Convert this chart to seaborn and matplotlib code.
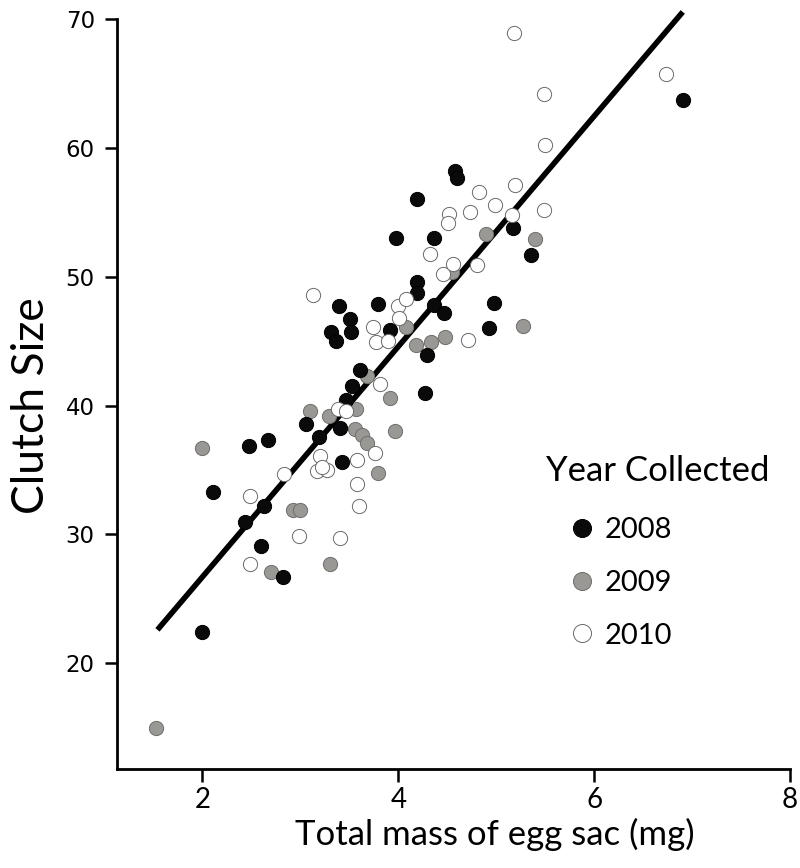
import numpy as np
import pandas as pd
import matplotlib
matplotlib.use("Agg")
import matplotlib.pyplot as plt
import seaborn as sns
from matplotlib.lines import Line2D

# ---- data ----
years = ["2008", "2009", "2010"]

x_2008 = [2.00, 2.11, 2.48, 2.67, 2.43, 2.63, 2.60, 2.82, 3.06, 3.19, 3.39, 3.31, 3.36,
          3.51, 3.52, 3.40, 3.42, 3.47, 3.53, 3.61, 3.79, 3.92, 3.98, 4.19, 4.19, 4.19,
          4.36, 4.36, 4.47, 4.29, 4.27, 4.58, 4.60, 4.98, 4.93, 5.17, 5.36, 6.91]
y_2008 = [22.4, 33.3, 36.9, 37.3, 31.0, 32.2, 29.1, 26.7, 38.6, 37.6, 47.7, 45.7, 45.0,
          46.7, 45.7, 38.3, 35.6, 40.4, 41.5, 42.8, 47.9, 45.9, 53.0, 49.6, 48.7, 56.0,
          53.0, 47.8, 47.2, 43.9, 41.0, 58.2, 57.7, 48.0, 46.0, 53.8, 51.7, 63.7]

x_2009 = [1.53, 1.99, 2.70, 2.92, 3.00, 3.10, 3.29, 3.30, 3.56, 3.63, 3.68, 3.57,
          3.68, 3.79, 3.91, 3.97, 4.08, 4.18, 4.33, 4.48, 4.55, 4.90, 5.27, 5.40]
y_2009 = [15.0, 36.7, 27.1, 31.9, 31.9, 39.6, 39.2, 27.7, 38.2, 37.7, 37.1, 39.7,
          42.3, 34.8, 40.6, 38.0, 46.1, 44.7, 44.9, 45.3, 50.4, 53.3, 46.2, 52.9]

x_2010 = [2.49, 2.49, 2.83, 2.99, 3.13, 3.20, 3.17, 3.27, 3.22, 3.40,
          3.38, 3.47, 3.58, 3.58, 3.60, 3.76, 3.77, 3.74, 3.89, 3.81,
          4.00, 4.01, 4.08, 4.32, 4.46, 4.56, 4.52, 4.51, 4.73, 4.82,
          4.99, 4.80, 4.71, 5.16, 5.19, 5.49, 5.50, 5.49, 5.18, 6.73]
y_2010 = [33.0, 27.7, 34.7, 29.9, 48.6, 36.1, 34.9, 35.0, 35.2, 29.7,
          39.7, 39.6, 35.8, 33.9, 32.2, 36.3, 44.9, 46.1, 45.0, 41.7,
          47.7, 46.8, 48.3, 51.8, 50.2, 51.0, 54.9, 54.2, 55.0, 56.6,
          55.6, 50.9, 45.1, 54.8, 57.1, 55.2, 60.2, 64.2, 68.9, 65.7]

# fitted regression line (end points)
fit_x = [1.54, 6.905]
fit_y = [22.6, 70.55]

x_ticks = [2, 4, 6, 8]
y_ticks = [20, 30, 40, 50, 60, 70]

# ---- styling ----
fills = {"2008": "#0a0a0a", "2009": "#999894", "2010": "#ffffff"}
edges = {"2008": "#000000", "2009": "#6e6e6a", "2010": "#6a6a6a"}

sns.set_theme(style="ticks")
plt.rcParams['font.family'] = ['Lato', 'DejaVu Sans']
for k in ["text.color", "axes.labelcolor", "xtick.color", "ytick.color",
          "axes.edgecolor"]:
    plt.rcParams[k] = "black"

df = pd.concat([
    pd.DataFrame({"mass": x_2008, "clutch": y_2008, "Year": "2008"}),
    pd.DataFrame({"mass": x_2009, "clutch": y_2009, "Year": "2009"}),
    pd.DataFrame({"mass": x_2010, "clutch": y_2010, "Year": "2010"}),
], ignore_index=True)

W, H = 800, 868
fig = plt.figure(figsize=(W / 100, H / 100), dpi=100)
L, R, T, B = 117, 790, 19, 769
ax = fig.add_axes([L / W, (H - B) / H, (R - L) / W, (B - T) / H])

sns.lineplot(x=fit_x, y=fit_y, color="black", linewidth=4.0, ax=ax,
             zorder=2, clip_on=False, solid_capstyle="butt")

for yr in ["2009", "2008", "2010"]:
    sub = df[df["Year"] == yr]
    sns.scatterplot(data=sub, x="mass", y="clutch", color=fills[yr],
                    edgecolor=edges[yr], linewidth=0.7, s=105, ax=ax,
                    zorder=3, legend=False)

ax.set_xlim(1.127, 8)
ax.set_ylim(11.8, 70)
ax.set_xticks(x_ticks)
ax.set_yticks(y_ticks)
sns.despine(ax=ax)
for sp in ["left", "bottom"]:
    ax.spines[sp].set_linewidth(2.0)
    ax.spines[sp].set_color("black")
ax.tick_params(axis="both", direction="out", length=9, width=1.8, color="black")
ax.tick_params(axis="x", pad=4, labelsize=20)
ax.tick_params(axis="y", pad=7, labelsize=16.5, labelfontfamily="DejaVu Sans")

ax.set_xlabel("Total mass of egg sac (mg)", fontsize=25)
ax.set_ylabel("Clutch Size", fontsize=32)
ax.xaxis.set_label_coords((495 - L) / (R - L), -(834 - B) / (B - T))
ax.xaxis.label.set_va("center")
ax.yaxis.set_label_coords(-(L - 32) / (R - L), (B - 406) / (B - T))
ax.yaxis.label.set_va("center")

# legend
handles = [Line2D([], [], marker="o", linestyle="none", markersize=13,
                  markerfacecolor=fills[y], markeredgecolor=edges[y],
                  markeredgewidth=0.7) for y in years]
leg = ax.legend(handles, years, loc="upper left", frameon=False,
                bbox_to_anchor=((567 - L) / (R - L), (B - 517) / (B - T)),
                borderpad=0, borderaxespad=0, handlelength=1.0,
                handletextpad=0.3, labelspacing=0.92, fontsize=21)
fig.text(546 / W, 1 - 471 / H, "Year Collected", fontsize=25,
         ha="left", va="center")

fig.savefig("out.png", dpi=100)
